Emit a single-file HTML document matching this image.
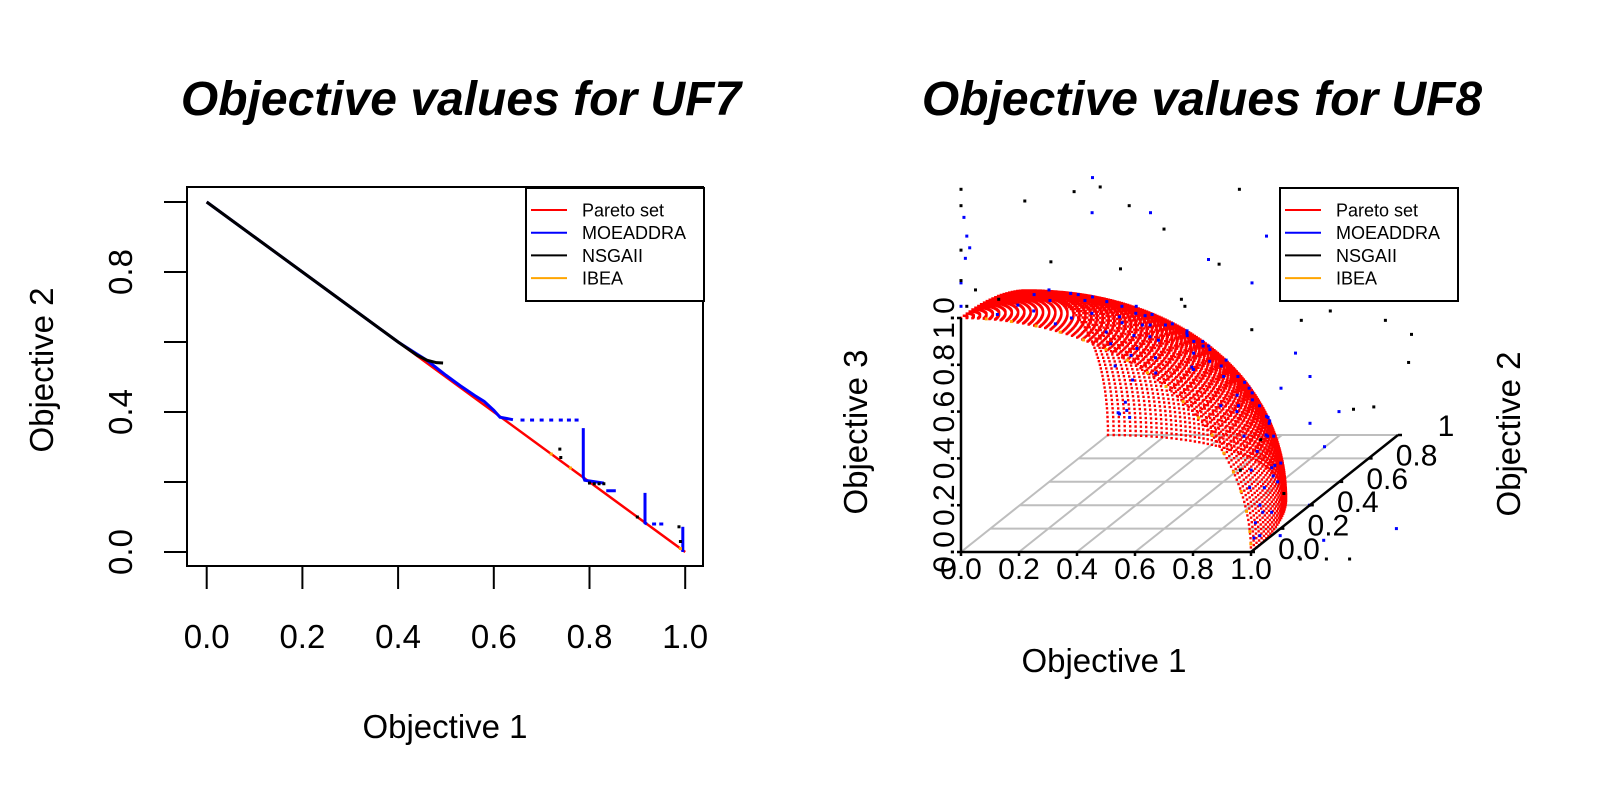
<!DOCTYPE html>
<html><head><meta charset="utf-8"><style>
html,body{margin:0;padding:0;background:#fff;}
svg{display:block;font-family:"Liberation Sans",Arial,sans-serif;}
</style></head><body>
<svg id="chart" width="1600" height="800" viewBox="0 0 1600 800" xmlns="http://www.w3.org/2000/svg">
<rect x="0" y="0" width="1600" height="800" fill="#fff"/>
<g id="left"></g>
<g id="right"></g>
</svg>
<script>
// ---------- UF7 data ----------
const uf7Ticks = [0, 0.2, 0.4, 0.6, 0.8, 1.0];
const uf7XTickLabels = ["0.0","0.2","0.4","0.6","0.8","1.0"];
const uf7YTickLabelVals = [0, 0.4, 0.8];
const uf7YTickLabels = ["0.0","0.4","0.8"];
const paretoX = [0, 1];
const paretoY = [1, 0];
const moeaRunsX = [[0,0.1,0.2,0.3,0.4,0.44,0.46,0.5,0.53,0.56,0.58,0.6,0.613,0.64],[0.787,0.787,0.79,0.83],[0.835,0.855],[0.916,0.916,0.92],[0.995,0.995]];
const moeaRunsY = [[1,0.9,0.8,0.7,0.6,0.565,0.548,0.505,0.475,0.447,0.43,0.405,0.385,0.378],[0.354,0.215,0.205,0.197],[0.175,0.175],[0.169,0.083,0.08],[0.072,0]];
const moeaDotsX = [0.66,0.68,0.7,0.72,0.74,0.757,0.773,0.935,0.95];
const moeaDotsY = [0.377,0.377,0.377,0.377,0.377,0.377,0.377,0.08,0.08];
const nsgaX = [0,0.1,0.2,0.3,0.4,0.44,0.46,0.48,0.494];
const nsgaY = [1,0.9,0.8,0.7,0.6,0.562,0.548,0.541,0.54];
const nsgaDotsX = [0.738,0.74,0.8,0.81,0.82,0.83,0.9,0.987,0.99];
const nsgaDotsY = [0.294,0.27,0.197,0.195,0.195,0.195,0.1,0.072,0.03];
const ibeaX = [0.72,0.76,0.99];
const ibeaY = [0.28,0.24,0.01];
const legendLabels = ["Pareto set","MOEADDRA","NSGAII","IBEA"];
const legendColors = ["#ff0000","#0000ff","#000000","#ffa500"];

// ---------- UF8 data ----------
const uf8Ticks = [0, 0.2, 0.4, 0.6, 0.8, 1.0];
const uf8XTickLabels = ["0.0","0.2","0.4","0.6","0.8","1.0"];
const uf8ZTickLabels = ["0.0","0.2","0.4","0.6","0.8","1.0"];
const uf8YTickLabels = ["0.0","0.2","0.4","0.6","0.8","1"];
const blackF1 = [0,0,0,0,0.22,0.39,0.48,0.58,0.70,0.96,0.89,0.76,0.55,0.31,0.13,0.92,1.02,1.21,1.30,1.29,1.10,1.17,0.78,0.86,0.71,1.17,1.26,1.34,0.02,0.05,0.8,0.62];
const blackF2 = [0,0,0,0,0,0,0,0,0,0,0,0,0,0,0,0.5,0.5,0.5,0.5,0.5,0.5,0.5,0.5,0.5,0.5,0,0,0,0,0,0.4,0.3];
const blackF3 = [1.55,1.48,1.29,1.16,1.50,1.54,1.56,1.48,1.38,1.55,1.23,1.08,1.21,1.24,1.08,0.74,0.78,0.74,0.68,0.56,0.36,0.37,0.23,0,0.10,-0.03,-0.03,-0.03,1.05,1.12,0.75,0.9];
const blueF1 = [0.1,0.2,0.3,0.35,0.45,0.5,0.55,0.6,0.65,0.7,0.75,0.8,0.85,0.9,0.92,0.95,0.97,0.98,0.99,1,0.99,0.3,0.2,0.4,0.25,0.15,0.35,0.5,0.6,0.7,0.45,0.55,0.1,0.05,0.15,0.4,0.8,0.85,0.9,0.88,0.05,0.1,0.2,0.95,0.75,0.65,0.05,0.08,0.1,0,0,0.01,0.02,0,0.03,0.9,0.85,0.95,1.0,0.75,0.6,0.4,0.2,0.8,0.3,0.95,1.05,1.1,1.05,1.2,1.4,
  0.12,0.18,0.25,0.33,0.42,0.52,0.62,0.72,0.82,0.9,0.96,0.2,0.3,0.45,0.58,0.68,0.78,0.86,0.93,0.15,0.28,0.38,0.5,0.63,0.74,0.83,0.1,0.22,0.35,0.48,0.6,0.7,0.06,0.12,0.04,0.07,0.97,0.99,0.94,0.98];
const blueF2 = [0.05,0.1,0.05,0.2,0.1,0.3,0.2,0.4,0.3,0.2,0.45,0.3,0.2,0.3,0.2,0.1,0.15,0.1,0.05,0.02,0.08,0.6,0.7,0.75,0.85,0.9,0.88,0.8,0.7,0.6,0.55,0.6,0.3,0.5,0.45,0.4,0.5,0.45,0.4,0.35,0.95,0.97,0.93,0.25,0.62,0.7,0.98,0.97,0.95,0,0,0.01,0,0.02,0,0.5,0.5,0.5,0.5,0.5,0.5,0.5,0.5,0.5,0.3,0.5,0.5,0.2,0.1,0.1,0.2,
  0.15,0.25,0.35,0.1,0.25,0.15,0.1,0.35,0.15,0.15,0.22,0.5,0.4,0.65,0.5,0.35,0.55,0.4,0.3,0.8,0.7,0.55,0.55,0.45,0.5,0.25,0.6,0.8,0.7,0.7,0.62,0.65,0.9,0.92,0.99,0.98,0.05,0.1,0.3,0.18];
const blueF3 = [0.99,0.98,0.95,0.92,0.89,0.82,0.82,0.7,0.7,0.68,0.5,0.52,0.5,0.35,0.33,0.3,0.2,0.15,0.1,0.05,0.03,0.75,0.7,0.55,0.48,0.42,0.35,0.35,0.4,0.38,0.7,0.58,0.95,0.87,0.88,0.82,0.33,0.27,0.18,0.32,0.32,0.25,0.3,0.2,0.25,0.3,0.1,0.12,0.1,1.05,1.15,1.25,1.35,1.42,1.3,0.6,0.45,0.3,0.2,0.9,1.0,1.2,1.35,1.1,1.3,0.5,0.35,0.1,0.02,0,0,
  0.98,0.95,0.9,0.95,0.88,0.85,0.78,0.62,0.55,0.42,0.25,0.84,0.87,0.62,0.65,0.64,0.3,0.35,0.22,0.58,0.66,0.74,0.66,0.64,0.45,0.5,0.8,0.57,0.62,0.53,0.51,0.3,0.44,0.38,0.1,0.15,0.25,0.12,0.15,0.08];
const ibeaTheta = [5,10,15,20,25,30,35,40,45,50,55,60,65,70,75,80,85,88];

const NS = "http://www.w3.org/2000/svg";
function mk(parent, tag, attrs, text) {
  const el = document.createElementNS(NS, tag);
  for (const k in attrs) el.setAttribute(k, attrs[k]);
  if (text !== undefined) el.textContent = text;
  parent.appendChild(el);
  return el;
}

// ---------- Left panel ----------
const L = document.getElementById('left');
const lx = v => 206.7 + v * 478.5;
const ly = v => 552 - v * 350;

let t = mk(L, 'text', {x: 461, y: 115, 'font-size': 48, 'font-weight': 'bold', 'font-style': 'italic', 'text-anchor': 'middle'}, 'Objective values for UF7');



const pl = mk(L, 'line', {x1: lx(paretoX[0]), y1: ly(paretoY[0]), x2: lx(paretoX[1]), y2: ly(paretoY[1]), stroke: '#ff0000', 'stroke-width': 2.5});



const gB = mk(L, 'g', {});


moeaRunsX.forEach((run, i) => {
  const pts = run.map((x, j) => lx(x) + ',' + ly(moeaRunsY[i][j])).join(' ');
  const p = mk(gB, 'polyline', {points: pts, fill: 'none', stroke: '#0000ff', 'stroke-width': 3});
  
  
});
moeaDotsX.forEach((x, i) => {
  const r = mk(gB, 'rect', {x: lx(x) - 2, y: ly(moeaDotsY[i]) - 1.5, width: 4, height: 3, fill: '#0000ff'});
  
  
});

const gK = mk(L, 'g', {});


const nl = mk(gK, 'polyline', {points: nsgaX.map((x, i) => lx(x) + ',' + ly(nsgaY[i])).join(' '), fill: 'none', stroke: '#000', 'stroke-width': 3});


nsgaDotsX.forEach((x, i) => {
  const r = mk(gK, 'rect', {x: lx(x) - 1.5, y: ly(nsgaDotsY[i]) - 1.5, width: 3, height: 3, fill: '#000'});
  
  
});
ibeaX.forEach((x, i) => {
  const r = mk(L, 'rect', {x: lx(x) - 1.5, y: ly(ibeaY[i]) - 1.5, width: 3, height: 3, fill: '#ffa500'});
  
  
});

const box = mk(L, 'rect', {x: 187, y: 187, width: 516, height: 379, fill: 'none', stroke: '#000', 'stroke-width': 2});


uf7Ticks.forEach(v => {
  const a = mk(L, 'line', {x1: lx(v), y1: 566, x2: lx(v), y2: 589, stroke: '#000', 'stroke-width': 2});
  
  
  const b = mk(L, 'line', {x1: 164, y1: ly(v), x2: 187, y2: ly(v), stroke: '#000', 'stroke-width': 2});
  
  
});
uf7XTickLabels.forEach((s, i) => {
  const e = mk(L, 'text', {x: lx(uf7Ticks[i]), y: 648, 'font-size': 33, 'text-anchor': 'middle'}, s);
  
  
});
uf7YTickLabels.forEach((s, i) => {
  const y = ly(uf7YTickLabelVals[i]);
  const e = mk(L, 'text', {x: 0, y: 0, 'font-size': 33, 'text-anchor': 'middle', transform: `translate(132,${y}) rotate(-90)`}, s);
  
  
});
t = mk(L, 'text', {x: 445, y: 738, 'font-size': 33, 'text-anchor': 'middle'}, 'Objective 1');


t = mk(L, 'text', {x: 0, y: 0, 'font-size': 33, 'text-anchor': 'middle', transform: 'translate(53,370) rotate(-90)'}, 'Objective 2');



function legend(parent, x0, y0, name) {
  const g = mk(parent, 'g', {});
  
  
  const r = mk(g, 'rect', {x: x0, y: y0, width: 178, height: 113, fill: '#fff', stroke: '#000', 'stroke-width': 2});
  
  
  legendLabels.forEach((s, i) => {
    const yy = y0 + 22 + i * 22.7;
    const l = mk(g, 'line', {x1: x0 + 5, y1: yy, x2: x0 + 41, y2: yy, stroke: legendColors[i], 'stroke-width': 2});
    
    
    const e = mk(g, 'text', {x: x0 + 56, y: yy + 6.5, 'font-size': 18}, s);
    
    
  });
}
legend(L, 526, 188, 'uf7-legend');

// ---------- Right panel ----------
const R = document.getElementById('right');
const O = [961, 552];
const ux = 290, vy = [147, -117], wz = 234;
const px = (a, b, c) => O[0] + a * ux + b * vy[0];
const py = (a, b, c) => O[1] + b * vy[1] - c * wz;

t = mk(R, 'text', {x: 1202, y: 115, 'font-size': 48, 'font-weight': 'bold', 'font-style': 'italic', 'text-anchor': 'middle'}, 'Objective values for UF8');



const grid = mk(R, 'g', {stroke: '#bebebe', 'stroke-width': 2});


uf8Ticks.forEach(v => {
  if (v > 0) {
    const a = mk(grid, 'line', {x1: px(0, v, 0), y1: py(0, v, 0), x2: px(1, v, 0), y2: py(1, v, 0)});
    
    
  }
  if (v < 1) {
    const b = mk(grid, 'line', {x1: px(v, 0, 0), y1: py(v, 0, 0), x2: px(v, 1, 0), y2: py(v, 1, 0)});
    
    
  }
});

let d = '';
const N = 80;
for (let i = 0; i <= N; i++) {
  const th = (i / N) * Math.PI / 2;
  for (let j = 0; j <= N; j++) {
    const ph = (j / N) * Math.PI / 2;
    const a = Math.sin(th) * Math.cos(ph), b = Math.sin(th) * Math.sin(ph), c = Math.cos(th);
    const X = px(a, b, c), Y = py(a, b, c);
    d += `M${(X - 1.2).toFixed(1)} ${(Y - 1.2).toFixed(1)}h2.4v2.4h-2.4z`;
  }
}
const surf = mk(R, 'path', {d: d, fill: '#ff0000'});



ibeaTheta.forEach(deg => {
  const th = deg * Math.PI / 180;
  const r = mk(R, 'rect', {x: px(Math.sin(th), 0, Math.cos(th)) - 1.5, y: py(Math.sin(th), 0, Math.cos(th)) - 1.5, width: 3, height: 3, fill: '#ffa500'});
  
  
});
blueF1.forEach((a, i) => {
  const r = mk(R, 'rect', {x: px(a, blueF2[i], blueF3[i]) - 1.5, y: py(a, blueF2[i], blueF3[i]) - 1.5, width: 3, height: 3, fill: '#0000ff'});
  
  
});
blackF1.forEach((a, i) => {
  const r = mk(R, 'rect', {x: px(a, blackF2[i], blackF3[i]) - 1.5, y: py(a, blackF2[i], blackF3[i]) - 1.5, width: 3, height: 3, fill: '#000'});
  
  
});

const ax = mk(R, 'g', {stroke: '#000', 'stroke-width': 2.5});


[[px(0,0,0),py(0,0,0),px(1,0,0),py(1,0,0)],[px(0,0,0),py(0,0,0),px(0,0,1),py(0,0,1)],[px(1,0,0),py(1,0,0),px(1,1,0),py(1,1,0)]].forEach(s => {
  const l = mk(ax, 'line', {x1: s[0], y1: s[1], x2: s[2], y2: s[3]});
  
  
});
uf8Ticks.forEach((v, i) => {
  const a = mk(ax, 'line', {x1: px(v,0,0), y1: py(v,0,0), x2: px(v,0,0), y2: py(v,0,0) + 4});
  
  
  const b = mk(ax, 'line', {x1: px(0,0,v) - 4, y1: py(0,0,v), x2: px(0,0,v), y2: py(0,0,v)});
  
  
  const c = mk(ax, 'line', {x1: px(1,v,0), y1: py(1,v,0), x2: px(1,v,0) + 4, y2: py(1,v,0)});
  
  
  const e1 = mk(R, 'text', {x: px(v,0,0), y: 579, 'font-size': 30, 'text-anchor': 'middle'}, uf8XTickLabels[i]);
  
  
  const e2 = mk(R, 'text', {x: 0, y: 0, 'font-size': 30, 'text-anchor': 'middle', transform: `translate(954,${py(0,0,v)}) rotate(-90)`}, uf8ZTickLabels[i]);
  
  
  const e3 = mk(R, 'text', {x: px(1,v,0) + 48, y: py(1,v,0) + 7 + (i === 5 ? -6 : 0), 'font-size': 30, 'text-anchor': 'middle'}, uf8YTickLabels[i]);
  
  
});
t = mk(R, 'text', {x: 1104, y: 672, 'font-size': 33, 'text-anchor': 'middle'}, 'Objective 1');


t = mk(R, 'text', {x: 0, y: 0, 'font-size': 33, 'text-anchor': 'middle', transform: 'translate(867,432) rotate(-90)'}, 'Objective 3');


t = mk(R, 'text', {x: 0, y: 0, 'font-size': 33, 'text-anchor': 'middle', transform: 'translate(1520,434) rotate(-90)'}, 'Objective 2');



legend(R, 1280, 188, 'uf8-legend');
</script>
</body></html>
